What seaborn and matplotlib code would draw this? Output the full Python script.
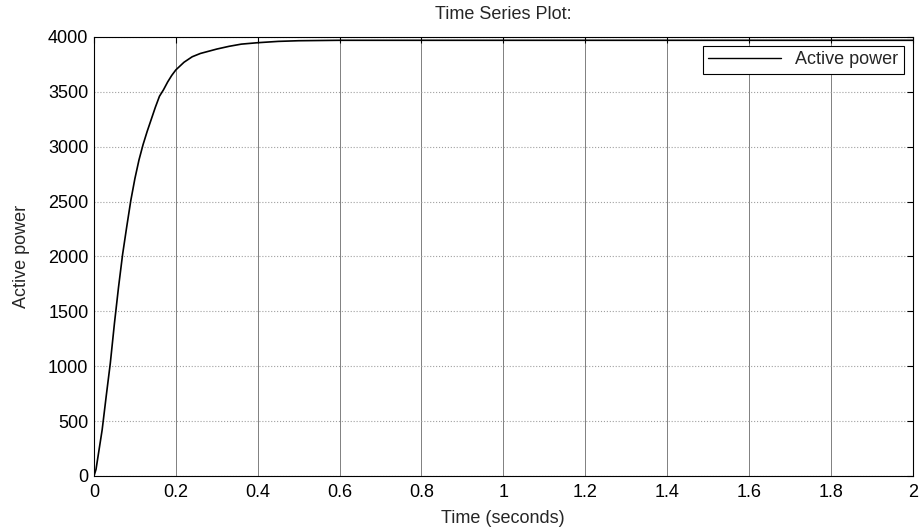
import numpy as np
import seaborn as sns
import matplotlib.pyplot as plt
import pandas as pd

# values
times = [0.00, 0.005, 0.01, 0.02, 0.03, 0.04, 0.05, 0.06, 0.07, 0.08, 0.09,
         0.10, 0.11, 0.12, 0.13, 0.14, 0.15, 0.16, 0.17, 0.18, 0.19,
         0.20, 0.22, 0.24, 0.26, 0.28, 0.30, 0.33, 0.36, 0.40, 0.45,
         0.50, 0.60, 2.00]
power = [0, 60, 180, 420, 730, 1030, 1390, 1720, 2020, 2270, 2510,
         2710, 2880, 3020, 3140, 3250, 3360, 3460, 3520, 3590, 3650,
         3700, 3770, 3820, 3850, 3870, 3890, 3915, 3935, 3948, 3960,
         3966, 3970, 3970]
xticks = [0, 0.2, 0.4, 0.6, 0.8, 1, 1.2, 1.4, 1.6, 1.8, 2]
yticks = [0, 500, 1000, 1500, 2000, 2500, 3000, 3500, 4000]

sns.set_style("white")
plt.rcParams['font.family'] = ['Liberation Sans', 'DejaVu Sans']
plt.rcParams['font.size'] = 13

df = pd.DataFrame(dict(Time=times, Power=power))

fig = plt.figure(figsize=(9.23, 5.27), dpi=100)
ax = fig.add_axes([0.1018, 0.0968, 0.887, 0.833])
sns.lineplot(x="Time", y="Power", data=df, ax=ax, color="black", lw=1.2,
             label="Active power")

ax.set_xlim(0, 2)
ax.set_ylim(0, 4000)
ax.set_xticks(xticks)
ax.set_xticklabels([f"{t:g}" for t in xticks])
ax.set_yticks(yticks)
ax.xaxis.grid(True, color="#808080", lw=0.7, ls="-")
ax.yaxis.grid(True, color="#a0a0a0", lw=0.8, ls=":")
ax.tick_params(direction="in", top=True, right=True, length=4, width=0.8,
               labelsize=13, colors="black")
ax.tick_params(axis="x", pad=6)
ax.tick_params(axis="y", pad=4)
for s in ax.spines.values():
    s.set_color("black")
    s.set_linewidth(0.8)

ax.set_title("Time Series Plot:", fontsize=13, pad=13)
ax.set_xlabel("Time (seconds)", fontsize=13, labelpad=6)
ax.set_ylabel("Active power", fontsize=13, labelpad=13)

leg = ax.legend(loc="upper right", fancybox=False, edgecolor="black",
                framealpha=1, fontsize=13, handlelength=4.0,
                borderaxespad=0.5, borderpad=0.3)
leg.get_frame().set_linewidth(0.8)
leg.get_lines()[0].set_linewidth(1.0)

fig.savefig("out.png", dpi=100)
